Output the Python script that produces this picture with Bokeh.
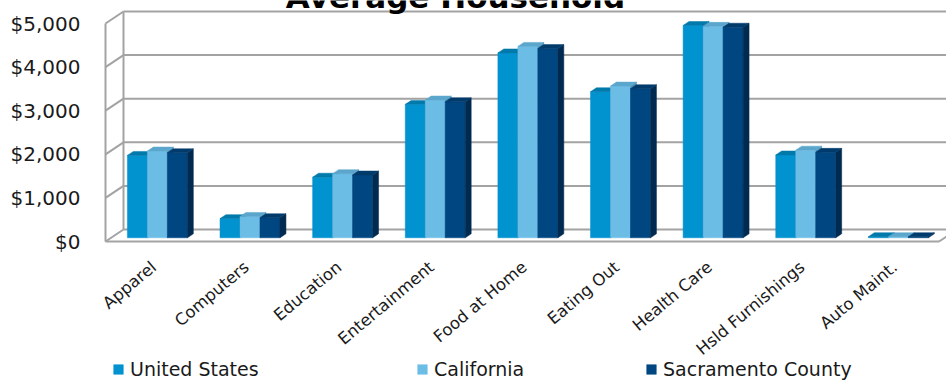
import math
from bokeh.plotting import figure
from bokeh.models import (ColumnDataSource, FixedTicker, NumeralTickFormatter, Range1d,
                          Legend, LegendItem, Label)
from bokeh.core.properties import value
from bokeh.embed import file_html
from bokeh.resources import INLINE

# ---------------- data ----------------
categories = ["Apparel", "Computers", "Education", "Entertainment", "Food at Home",
              "Eating Out", "Health Care", "Hsld Furnishings", "Auto Maint."]
united_states = [1890, 440, 1390, 3060, 4240, 3350, 4870, 1900, 25]
california = [1990, 490, 1470, 3160, 4390, 3480, 4850, 2010, 25]
sacramento_county = [1950, 460, 1440, 3120, 4340, 3420, 4830, 1960, 25]
series_names = ["United States", "California", "Sacramento County"]
y_ticks = [0, 1000, 2000, 3000, 4000, 5000]
title_text = "Average Household"

series_values = [united_states, california, sacramento_county]
front_colors = ["#0093D0", "#6CBDE6", "#004680"]
side_colors = ["#006E9E", "#4E93B8", "#002A50"]
top_colors = ["#0079AB", "#5BA6CC", "#003B6C"]

# ---------------- geometry (pixel layout -> data units) ----------------
W, H = 946, 381
FRAME_LEFT = 95
X0_PX, XN_PX = 105.0, 938.6      # front plane, category axis extent
Y0_PX, PX_PER_1000 = 241.0, 43.6  # front plane, value axis
n = len(categories)
ux = (XN_PX - X0_PX) / n
uy = PX_PER_1000 / 1000.0
x_start = (FRAME_LEFT - X0_PX) / ux
x_end = (W - X0_PX) / ux
y_end = Y0_PX / uy
y_start = -(H - Y0_PX) / uy
ddx = 18.0 / ux        # full depth offset (x)
ddy = 12.0 / uy        # full depth offset (y)
f0, f1 = 0.31, 0.64     # bar depth slot
bw = 20.0 / ux          # bar width
ymax = y_ticks[-1]

p = figure(width=W, height=H, output_backend="svg", toolbar_location=None,
           x_range=Range1d(x_start, x_end), y_range=Range1d(y_start, y_end),
           x_axis_location=None, y_axis_location="left",
           min_border_left=FRAME_LEFT, min_border_right=0,
           min_border_top=0, min_border_bottom=0)
p.outline_line_color = None
p.grid.visible = False
p.background_fill_color = "white"
p.border_fill_color = "white"

# y axis
ax = p.yaxis[0]
ax.ticker = FixedTicker(ticks=y_ticks)
ax.formatter = NumeralTickFormatter(format="$0,0")
ax.axis_line_color = None
ax.major_tick_line_color = None
ax.minor_tick_line_color = None
ax.major_tick_out = 0
ax.major_tick_in = 0
ax.minor_tick_out = 0
ax.minor_tick_in = 0
ax.major_label_standoff = 15
ax.major_label_text_font = "DejaVu Sans"
ax.major_label_text_font_size = "20px"
ax.major_label_text_color = "#1a1a1a"

# ---------------- walls / floor ----------------
grid_col = "#a3a3a3"
# back wall gridlines
p.segment(x0=[ddx] * len(y_ticks), y0=[v + ddy for v in y_ticks],
          x1=[n + ddx] * len(y_ticks), y1=[v + ddy for v in y_ticks],
          line_color=grid_col, line_width=2)
# side wall diagonals
p.segment(x0=[0] * len(y_ticks), y0=y_ticks,
          x1=[ddx] * len(y_ticks), y1=[v + ddy for v in y_ticks],
          line_color=grid_col, line_width=2)
# verticals of side wall
p.segment(x0=[0, ddx], y0=[0, ddy], x1=[0, ddx], y1=[ymax, ymax + ddy],
          line_color=grid_col, line_width=2)
# floor front edge and right edge
p.segment(x0=[0, n], y0=[0, 0], x1=[n, n + ddx], y1=[0, ddy],
          line_color=grid_col, line_width=2)

# ---------------- bars ----------------
legend_items = []
for j, vals in enumerate(series_values):
    lefts = [i + 0.5 + (j - 1.5) * bw + f0 * ddx for i in range(n)]
    rights = [l + bw for l in lefts]
    bottoms = [f0 * ddy] * n
    tops = [v + f0 * ddy for v in vals]
    dx = (f1 - f0) * ddx
    dy = (f1 - f0) * ddy
    src = ColumnDataSource(dict(left=lefts, right=rights, bottom=bottoms, top=tops))
    front = p.quad(left="left", right="right", bottom="bottom", top="top", source=src,
                   fill_color=front_colors[j], line_color=front_colors[j], line_width=0.5)
    side_xs = [[r, r, r + dx, r + dx] for r in rights]
    side_ys = [[b, t, t + dy, b + dy] for b, t in zip(bottoms, tops)]
    p.patches(xs=side_xs, ys=side_ys, fill_color=side_colors[j],
              line_color=side_colors[j], line_width=0.5)
    top_xs = [[l, r, r + dx, l + dx] for l, r in zip(lefts, rights)]
    top_ys = [[t, t, t + dy, t + dy] for t in tops]
    p.patches(xs=top_xs, ys=top_ys, fill_color=top_colors[j],
              line_color=top_colors[j], line_width=0.5)
    legend_items.append(LegendItem(label=series_names[j], renderers=[front]))

# ---------------- category labels ----------------
lab_y = (Y0_PX - 257.0) / uy
lab_dx = -4.0 / ux
p.text(x=[i + 0.5 + lab_dx for i in range(n)], y=[lab_y] * n, text=categories,
       angle=math.radians(40), text_align="right", text_baseline="top",
       text_font=value("DejaVu Sans"), text_font_size="16.5px", text_color="#1a1a1a")

# ---------------- title (cropped at top) ----------------
title = Label(x=(455.0 - X0_PX) / ux, y=(Y0_PX + 4.0) / uy, text=title_text,
              text_align="center", text_baseline="alphabetic",
              text_font="DejaVu Sans", text_font_style="bold",
              text_font_size="31px", text_color="black")
p.add_layout(title)

# ---------------- legends ----------------
legend_x = [112 - FRAME_LEFT, 416 - FRAME_LEFT, 645 - FRAME_LEFT]
for item, lx in zip(legend_items, legend_x):
    lg = Legend(items=[item], location=(lx, 0), orientation="horizontal",
                glyph_width=12, glyph_height=12, label_standoff=6,
                padding=0, margin=0, spacing=0,
                border_line_color=None, background_fill_alpha=0,
                label_text_font="DejaVu Sans", label_text_font_size="19px",
                label_text_color="#1a1a1a", label_height=24)
    p.add_layout(lg)

open("out.html", "w").write(file_html(p, INLINE))
